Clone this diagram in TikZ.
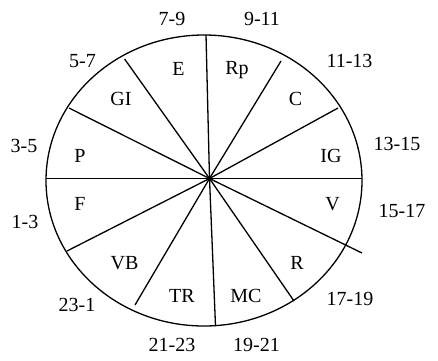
\documentclass[tikz,border=0pt]{standalone}
\usepackage{fontspec}
\setmainfont{Liberation Serif}
\usepackage{tikz}
\usetikzlibrary{calc}

\begin{document}
\begin{tikzpicture}[
    x=1pt, y=-1pt,
    every node/.style={font=\fontsize{20}{24}\selectfont, inner sep=0pt},
    spoke/.style={line width=1.3pt},
]
    \useasboundingbox (0,0) rectangle (438,360);

    % ── Outer ellipse ─────────────────────────────
    \draw[line width=1.3pt] (204,180.5) ellipse [x radius=158, y radius=145.5];

    % ── Spokes from the hub ───────────────────────
    \coordinate (hub) at (209.5,178.5);
    \foreach \px/\py in {206/35, 281/61, 338/108, 362/178.5, 362/253,
                         294/301, 215.5/326, 135/305, 67/251, 46/178.5,
                         69/108, 124.6/59}
        \draw[spoke] (hub) -- (\px,\py);

    % ── Sector names ──────────────────────────────
    \node (E)  at (178.5,69)   {E};
    \node (Rp) at (237,70)     {Rp};
    \node (GI) at (121,99)     {GI};
    \node (C)  at (295.6,99)   {C};
    \node (P)  at (80,155.5)   {P};
    \node (IG) at (331,155.5)  {IG};
    \node (F)  at (80,204)     {F};
    \node (V)  at (332.6,204)  {V};
    \node (VB) at (124.6,262.6){VB};
    \node (R)  at (297,262.6)  {R};
    \node (TR) at (182,295.6)  {TR};
    \node (MC) at (246,295.6)  {MC};

    % ── Hour ranges ───────────────────────────────
    \node (h7)  at (172,18.5)  {7-9};
    \node (h9)  at (262,18.5)  {9-11};
    \node (h5)  at (82.5,60.6) {5-7};
    \node (h11) at (349.5,61)  {11-13};
    \node (h3)  at (24,145.5)  {3-5};
    \node (h13) at (397,144)   {13-15};
    \node (h1)  at (25,222)    {1-3};
    \node (h15) at (402,211)   {15-17};
    \node (h23) at (77,305)    {23-1};
    \node (h17) at (350,299)   {17-19};
    \node (h21) at (172,345)   {21-23};
    \node (h19) at (256.5,345) {19-21};
\end{tikzpicture}
\end{document}
